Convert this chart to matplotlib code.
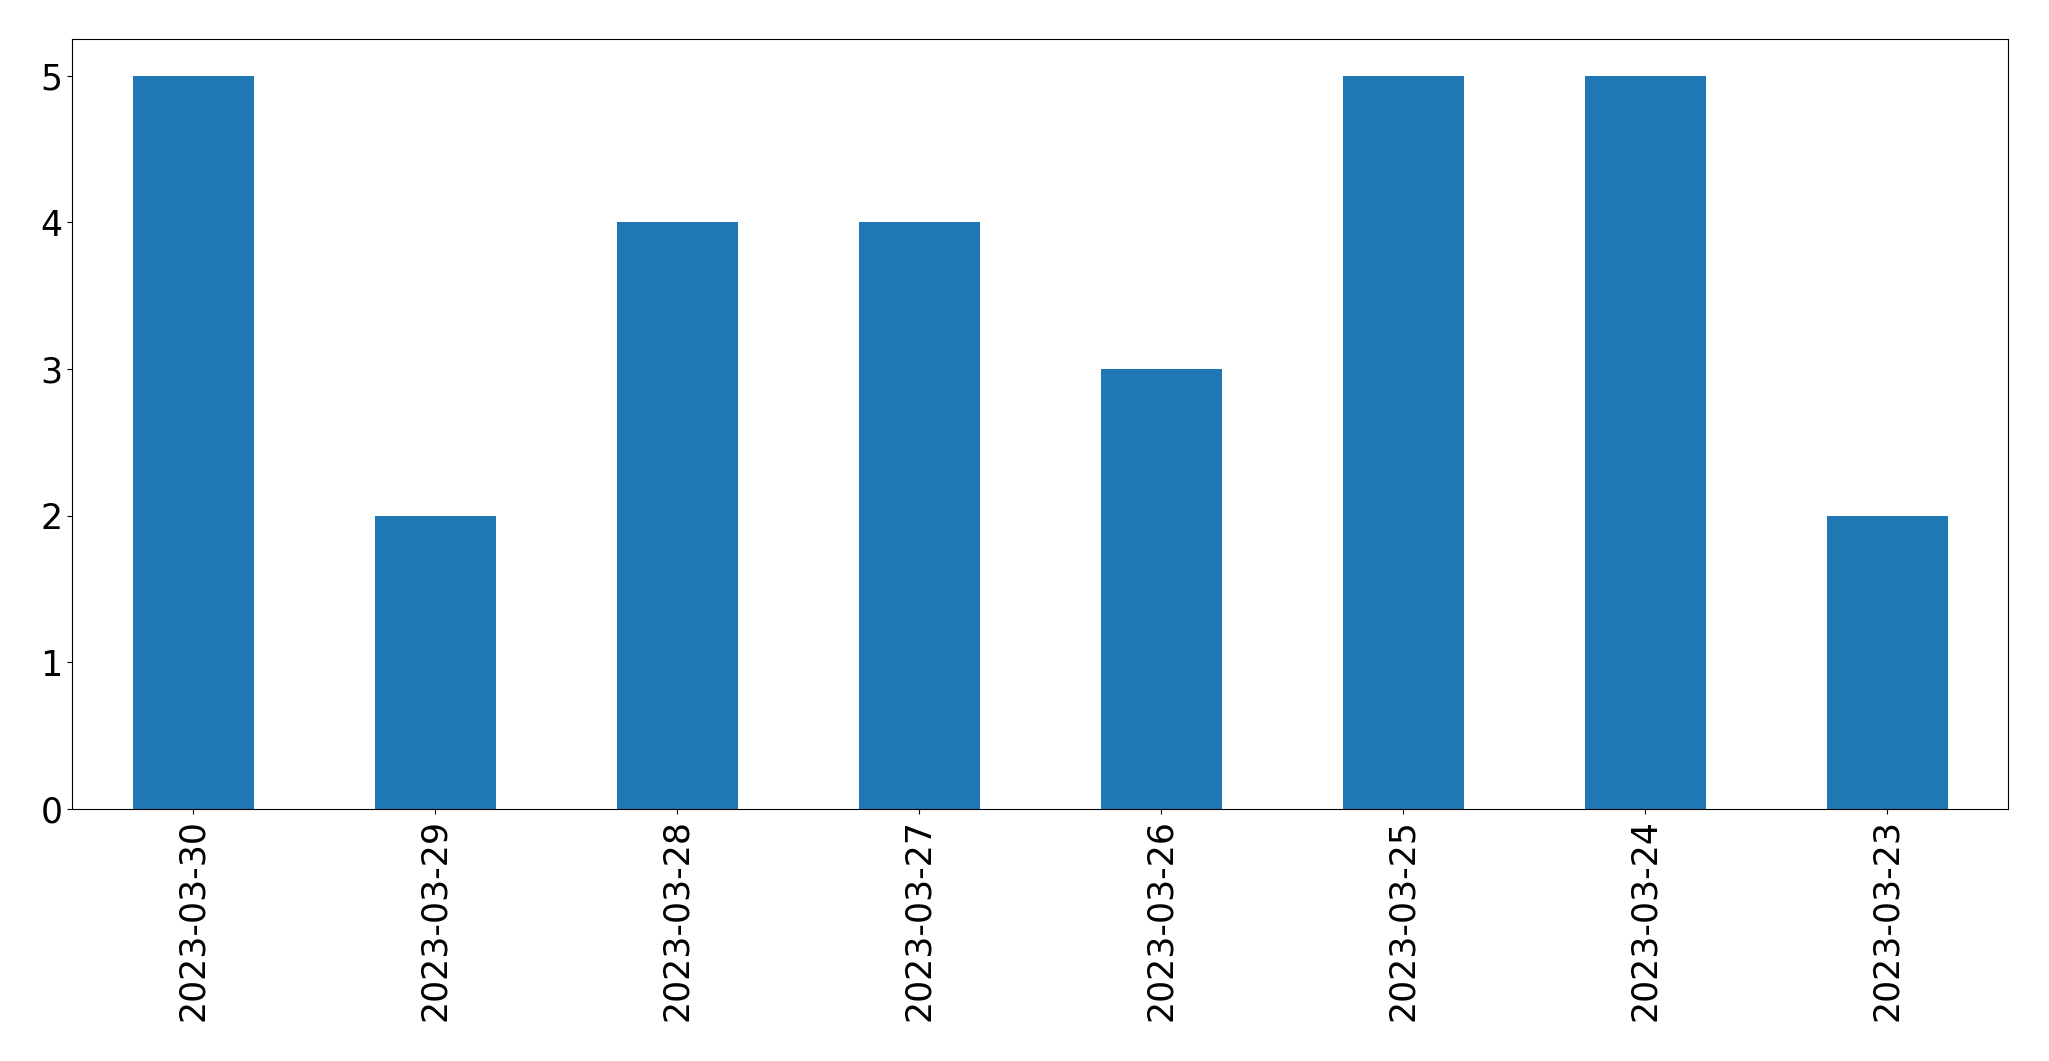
import pandas as pd
import matplotlib
matplotlib.use("Agg")
import matplotlib.pyplot as plt

# dates and counts
dates = ['2023-03-30', '2023-03-29', '2023-03-28', '2023-03-27',
         '2023-03-26', '2023-03-25', '2023-03-24', '2023-03-23']
counts = [5, 2, 4, 4, 3, 5, 5, 2]

s = pd.Series(counts, index=dates)

fig, ax = plt.subplots(figsize=(20.49, 10.61), dpi=100)
fig.subplots_adjust(left=72/2049, right=2008/2049, top=1-39/1061, bottom=1-809/1061)

s.plot(kind='bar', ax=ax, color='#1f77b4')
ax.tick_params(axis='both', labelsize=25)

fig.savefig('out.png', dpi=100)
